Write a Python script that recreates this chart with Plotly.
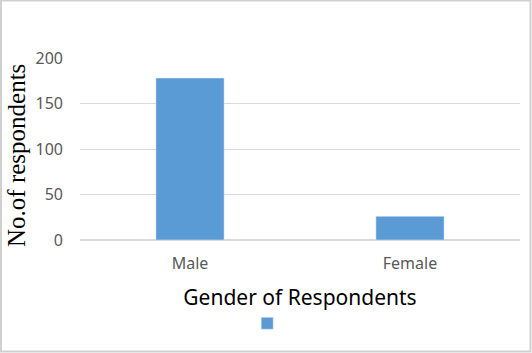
import plotly.graph_objects as go

categories = ["Male", "Female"]
respondents = [178, 26]
tick_vals = [0, 50, 100, 150, 200]

L, R, T, B = 80, 12, 58, 113
W, H = 532, 353
pw, ph = W - L - R, H - T - B

fig = go.Figure(go.Bar(x=categories, y=respondents, marker_color="#5b9bd5",
                       name=" ", showlegend=True))

fig.update_layout(
    width=W, height=H,
    margin=dict(l=L, r=R, t=T, b=B, pad=0),
    paper_bgcolor="white", plot_bgcolor="white",
    bargap=0.69,
    font=dict(family="Noto Sans", color="#595959"),
    xaxis=dict(
        showgrid=False, showline=False, ticks="", automargin=False,
        ticklabelstandoff=12,
        tickfont=dict(size=16, color="#595959"),
        title=dict(text="Gender of Respondents", standoff=17,
                   font=dict(size=21, color="black", family="Noto Sans")),
    ),
    yaxis=dict(
        range=[0, 200], tickvals=tick_vals, showgrid=True, automargin=False,
        gridcolor="#d9d9d9", gridwidth=1, zeroline=True, zerolinecolor="#d9d9d9",
        ticks="", ticklabelstandoff=16,
        tickfont=dict(size=16, color="#595959"),
    ),
    annotations=[dict(text="No.of respondents", textangle=-90, showarrow=False,
                      xref="paper", yref="paper",
                      x=(16 - L) / pw, y=(240 - 156) / ph,
                      xanchor="center", yanchor="middle",
                      font=dict(size=25, color="black", family="Liberation Serif"))],
    legend=dict(orientation="h", x=0.38, xanchor="left", y=-0.378, yanchor="top",
                font=dict(size=10), itemwidth=30),
    shapes=[dict(type="rect", xref="paper", yref="paper",
                 x0=-L / pw + 1 / pw, x1=1 + R / pw - 1.5 / pw,
                 y0=-B / ph + 1.5 / ph, y1=1 + T / ph - 0.5 / ph,
                 line=dict(color="#d0d0d0", width=2), layer="below")],
)

fig.write_html("out.html")
